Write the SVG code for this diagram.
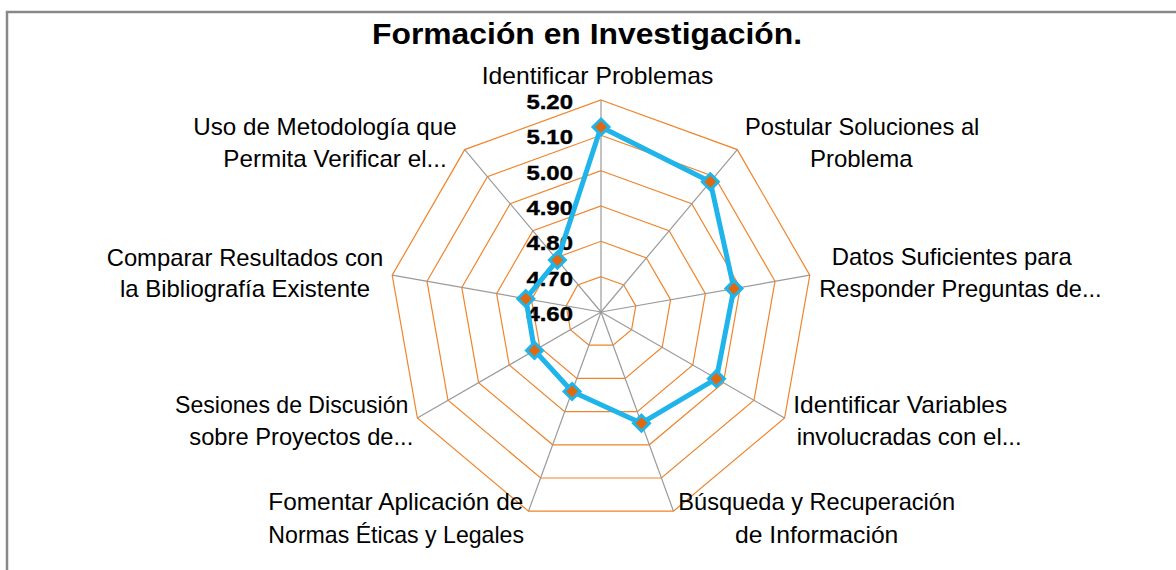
<svg xmlns="http://www.w3.org/2000/svg" width="1176" height="570" viewBox="0 0 1176 570">
<defs>
<style>
.lbl{font-family:"Liberation Sans",Arial,sans-serif;font-size:24px;fill:#000;text-anchor:middle}
.tick{font-family:"Liberation Sans",Arial,sans-serif;font-size:21px;font-weight:bold;fill:#000;stroke:#000;stroke-width:0.4;text-anchor:end}
.title{font-family:"Liberation Sans",Arial,sans-serif;font-size:29px;font-weight:bold;fill:#000;text-anchor:middle}
.ring{fill:none;stroke:#F0842A;stroke-width:1.2}
.axis{stroke:#9A9A9A;stroke-width:1.2}
.series{fill:none;stroke:#1FB4EA;stroke-width:5;stroke-linejoin:round}
.frame{stroke:#888;stroke-width:2.5;fill:none}
</style>
<path id="dia" d="M0,-8 L8,0 L0,8 L-8,0 Z" fill="#E0690F" stroke="#1FB4EA" stroke-width="3" stroke-linejoin="miter"/>
</defs>
<rect width="1176" height="570" fill="#fff"/>
<path class="frame" d="M7,570 V12 H1176"/>
<text class="title" x="587" y="44" textLength="430" lengthAdjust="spacingAndGlyphs">Formación en Investigación.</text>

<g id="grid">
<polygon class="ring" points="601,276.7 623.7,284.9 635.8,305.9 631.6,329.7 613.1,345.2 588.9,345.2 570.4,329.7 566.2,305.9 577.7,284.9"/>
<polygon class="ring" points="601,241.3 646.4,257.9 670.6,299.7 662.2,347.3 625.2,378.4 576.8,378.4 539.8,347.3 531.4,299.7 555.6,257.9"/>
<polygon class="ring" points="601,206 669.1,230.8 705.4,293.6 692.8,365 637.3,411.6 564.7,411.6 509.2,365 496.6,293.6 532.9,230.8"/>
<polygon class="ring" points="601,170.7 691.8,203.7 740.2,287.5 723.4,382.7 649.3,444.8 552.7,444.8 478.6,382.7 461.8,287.5 510.2,203.7"/>
<polygon class="ring" points="601,135.3 714.6,176.7 775,281.3 754,400.3 661.4,478 540.6,478 448,400.3 427,281.3 487.4,176.7"/>
<polygon class="ring" points="601,100 737.3,149.6 809.8,275.2 784.6,418 673.5,511.2 528.5,511.2 417.4,418 392.2,275.2 464.7,149.6"/>
<line class="axis" x1="601" y1="312" x2="601" y2="100"/>
<line class="axis" x1="601" y1="312" x2="737.3" y2="149.6"/>
<line class="axis" x1="601" y1="312" x2="809.8" y2="275.2"/>
<line class="axis" x1="601" y1="312" x2="784.6" y2="418"/>
<line class="axis" x1="601" y1="312" x2="673.5" y2="511.2"/>
<line class="axis" x1="601" y1="312" x2="528.5" y2="511.2"/>
<line class="axis" x1="601" y1="312" x2="417.4" y2="418"/>
<line class="axis" x1="601" y1="312" x2="392.2" y2="275.2"/>
<line class="axis" x1="601" y1="312" x2="464.7" y2="149.6"/>
</g>

<g id="ticks">
<text class="tick" x="573" y="109" textLength="46.6" lengthAdjust="spacingAndGlyphs">5.20</text>
<text class="tick" x="573" y="144.3" textLength="46.6" lengthAdjust="spacingAndGlyphs">5.10</text>
<text class="tick" x="573" y="179.7" textLength="46.6" lengthAdjust="spacingAndGlyphs">5.00</text>
<text class="tick" x="573" y="215" textLength="46.6" lengthAdjust="spacingAndGlyphs">4.90</text>
<text class="tick" x="573" y="250.3" textLength="46.6" lengthAdjust="spacingAndGlyphs">4.80</text>
<text class="tick" x="573" y="285.7" textLength="46.6" lengthAdjust="spacingAndGlyphs">4.70</text>
<text class="tick" x="573" y="321" textLength="46.6" lengthAdjust="spacingAndGlyphs">4.60</text>
</g>

<g id="connectors">
<polygon class="series" points="601,127 710.3,181.8 733.9,288.6 716.4,378.7 641.5,423.2 572.1,391.5 534.5,350.4 525.8,298.7 557.4,260.1"/>
</g>

<g id="node-identificar-problemas">
<use href="#dia" x="601" y="127"/>
<text class="lbl" x="597.5" y="84" textLength="231.6" lengthAdjust="spacingAndGlyphs">Identificar Problemas</text>
</g>
<g id="node-postular-soluciones">
<use href="#dia" x="710.3" y="181.8"/>
<text class="lbl" x="862.2" y="135" textLength="234.3" lengthAdjust="spacingAndGlyphs">Postular Soluciones al</text>
<text class="lbl" x="861.3" y="166.7" textLength="102.7" lengthAdjust="spacingAndGlyphs">Problema</text>
</g>
<g id="node-datos-suficientes">
<use href="#dia" x="733.9" y="288.6"/>
<text class="lbl" x="951.7" y="265" textLength="240" lengthAdjust="spacingAndGlyphs">Datos Suficientes para</text>
<text class="lbl" x="960.5" y="297" textLength="282.4" lengthAdjust="spacingAndGlyphs">Responder Preguntas de...</text>
</g>
<g id="node-identificar-variables">
<use href="#dia" x="716.4" y="378.7"/>
<text class="lbl" x="900.3" y="413.3" textLength="214" lengthAdjust="spacingAndGlyphs">Identificar Variables</text>
<text class="lbl" x="909.2" y="445" textLength="225" lengthAdjust="spacingAndGlyphs">involucradas con el...</text>
</g>
<g id="node-busqueda">
<use href="#dia" x="641.5" y="423.2"/>
<text class="lbl" x="816.7" y="510" textLength="276.7" lengthAdjust="spacingAndGlyphs">Búsqueda y Recuperación</text>
<text class="lbl" x="816.7" y="543.3" textLength="163.3" lengthAdjust="spacingAndGlyphs">de Información</text>
</g>
<g id="node-fomentar">
<use href="#dia" x="572.1" y="391.5"/>
<text class="lbl" x="395.8" y="510" textLength="255" lengthAdjust="spacingAndGlyphs">Fomentar Aplicación de</text>
<text class="lbl" x="396.2" y="543.3" textLength="255.7" lengthAdjust="spacingAndGlyphs">Normas Éticas y Legales</text>
</g>
<g id="node-sesiones">
<use href="#dia" x="534.5" y="350.4"/>
<text class="lbl" x="291.7" y="413.3" textLength="233.3" lengthAdjust="spacingAndGlyphs">Sesiones de Discusión</text>
<text class="lbl" x="301.3" y="445" textLength="224" lengthAdjust="spacingAndGlyphs">sobre Proyectos de...</text>
</g>
<g id="node-comparar">
<use href="#dia" x="525.8" y="298.7"/>
<text class="lbl" x="245" y="265.7" textLength="276.6" lengthAdjust="spacingAndGlyphs">Comparar Resultados con</text>
<text class="lbl" x="245" y="297" textLength="250" lengthAdjust="spacingAndGlyphs">la Bibliografía Existente</text>
</g>
<g id="node-uso-metodologia">
<use href="#dia" x="557.4" y="260.1"/>
<text class="lbl" x="325" y="135" textLength="263.4" lengthAdjust="spacingAndGlyphs">Uso de Metodología que</text>
<text class="lbl" x="335" y="166.7" textLength="223.4" lengthAdjust="spacingAndGlyphs">Permita Verificar el...</text>
</g>
</svg>
